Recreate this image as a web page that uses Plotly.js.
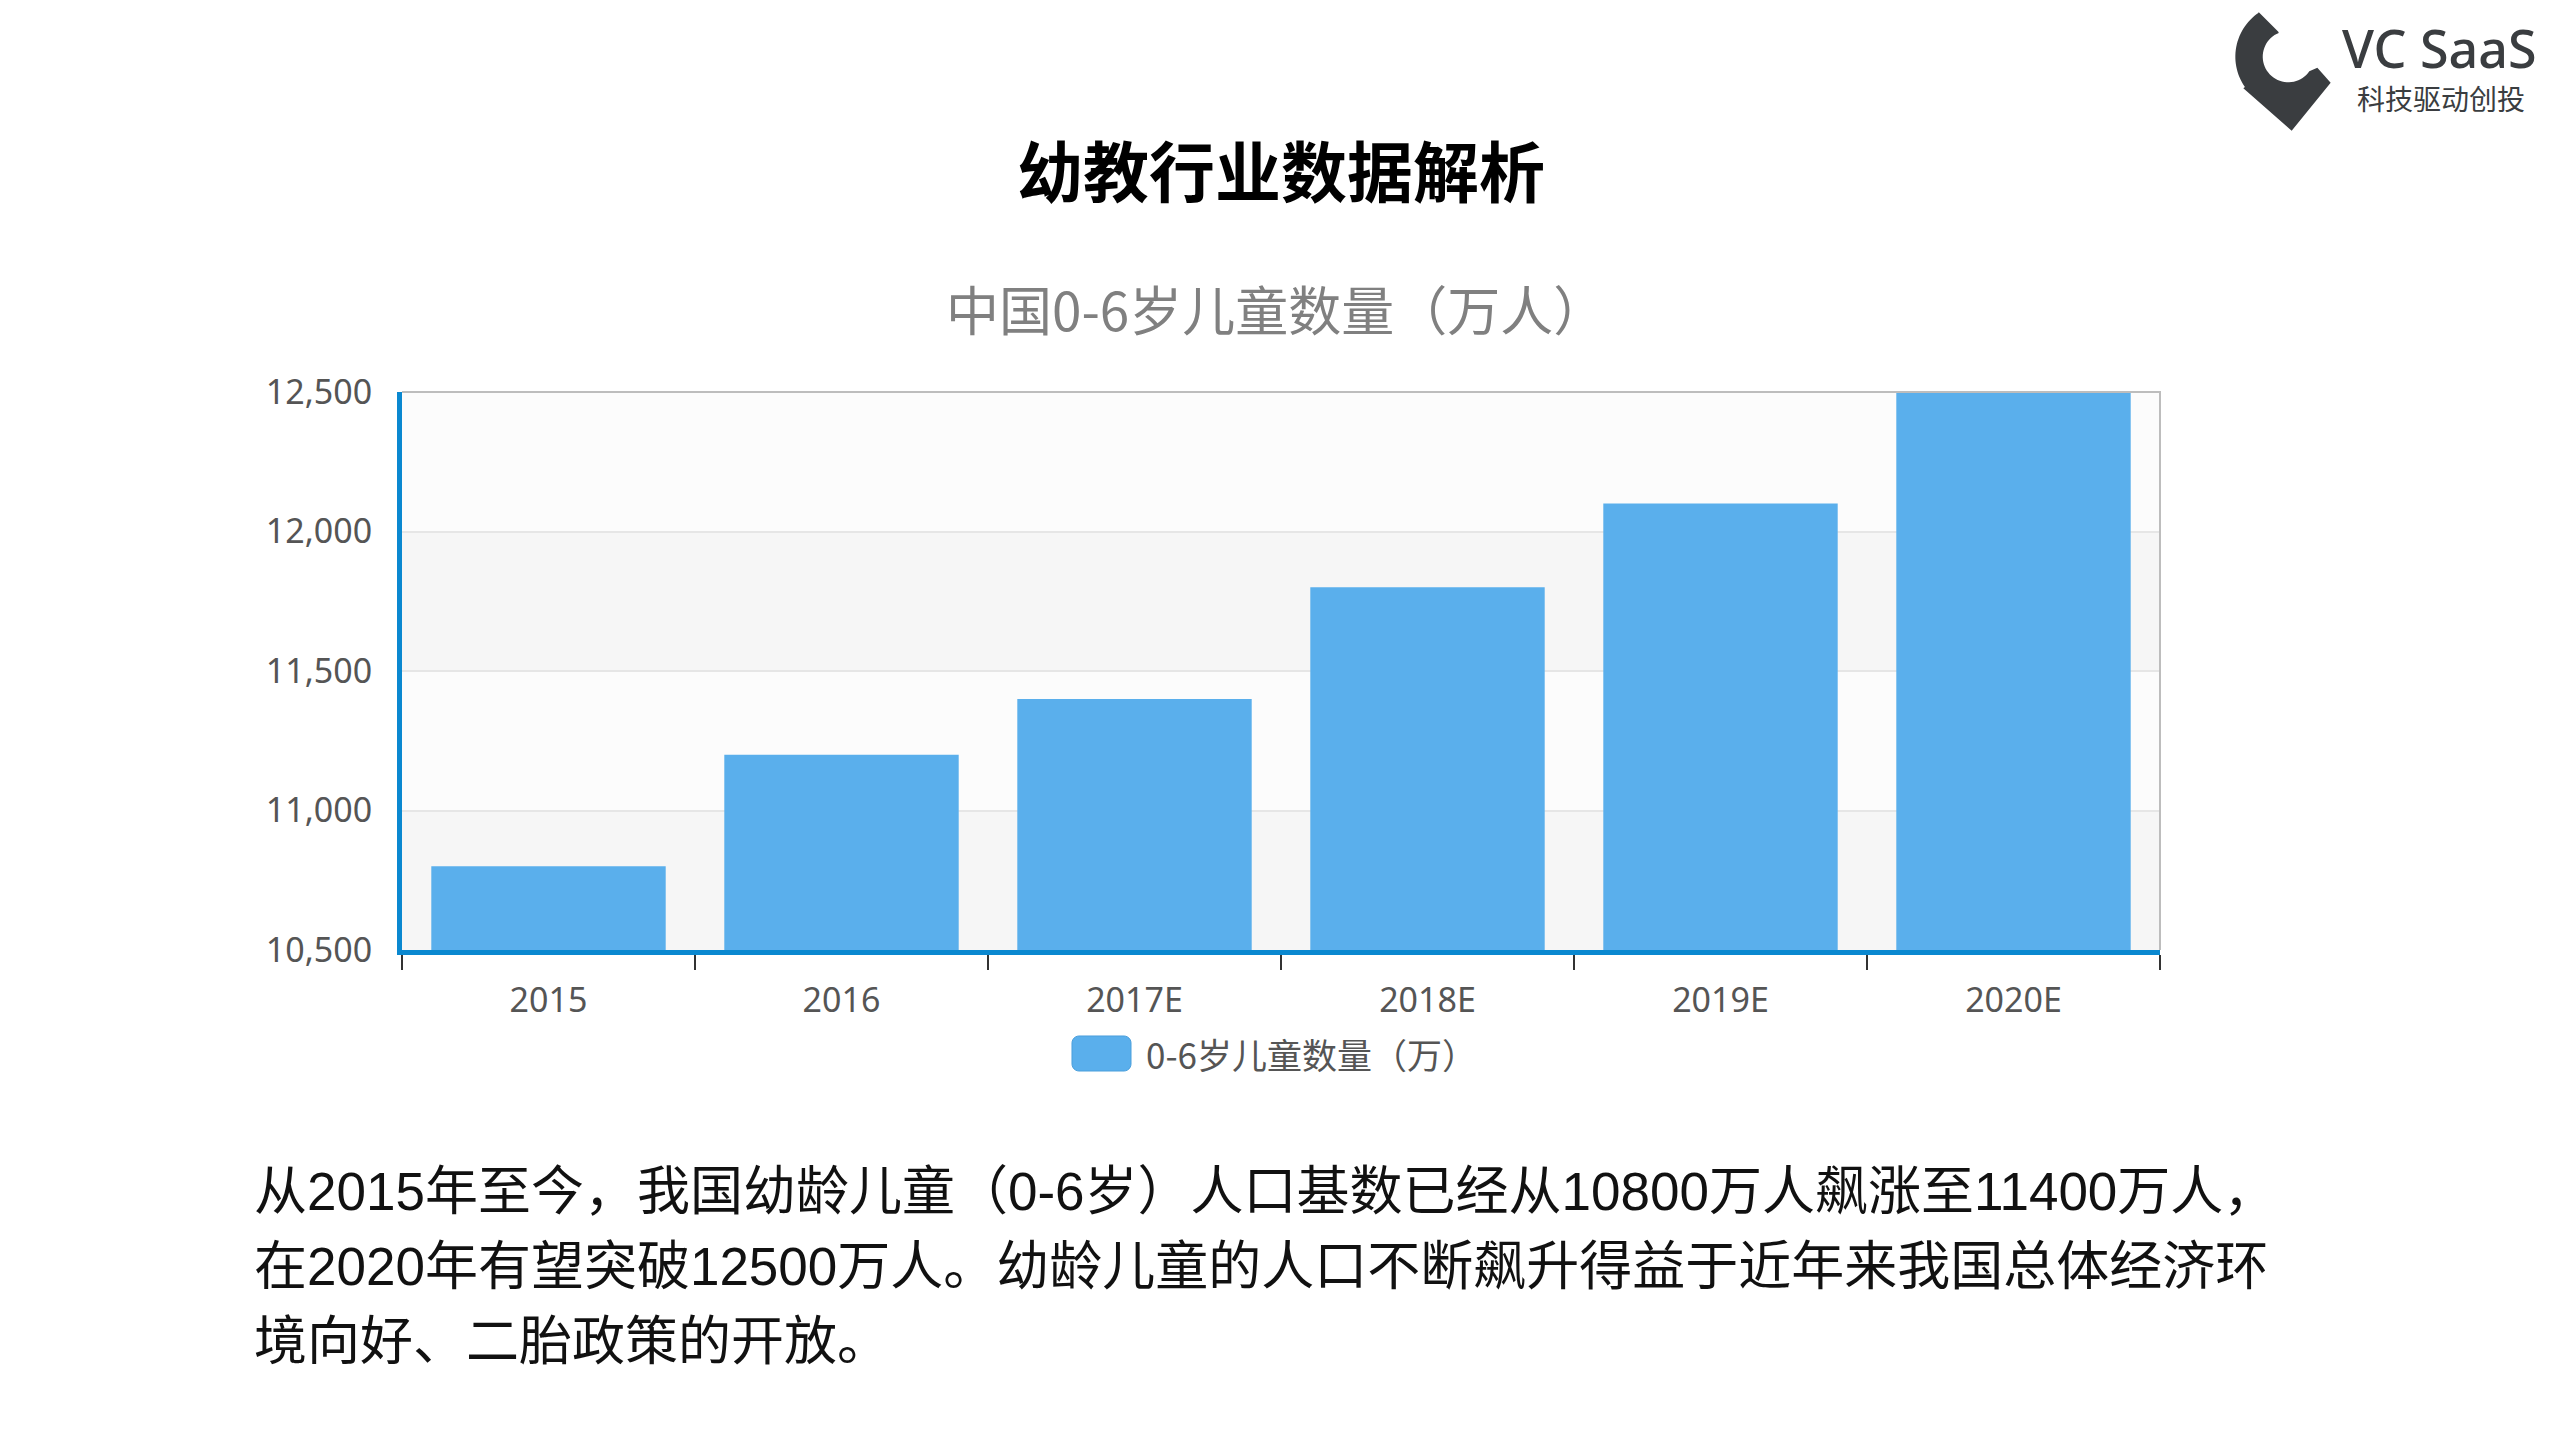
<!DOCTYPE html>
<html>
<head>
<meta charset="utf-8">
<script src="https://cdn.plot.ly/plotly-3.0.1.min.js"></script>
<style>
  html, body { margin: 0; padding: 0; background: #ffffff; }
  #chart { width: 2559px; height: 1439px; }
</style>
</head>
<body>
<div id="chart"></div>
<script>
// ---------- data ----------
const categories = ["2015", "2016", "2017E", "2018E", "2019E", "2020E"];
const childrenCount = [10800, 11200, 11400, 11800, 12100, 12500];
const seriesName = "0-6岁儿童数量（万）";
const yTicks = [10500, 11000, 11500, 12000, 12500];
const pageTitle = "幼教行业数据解析";
const chartTitle = "中国0-6岁儿童数量（万人）";
const bodyLines = [
  "从2015年至今，我国幼龄儿童（0-6岁）人口基数已经从10800万人飙涨至11400万人，",
  "在2020年有望突破12500万人。幼龄儿童的人口不断飙升得益于近年来我国总体经济环",
  "境向好、二胎政策的开放。"
];
const logoName = "VC SaaS";
const logoSlogan = "科技驱动创投";

// ---------- geometry helpers (page pixels -> paper) ----------
const W = 2559, H = 1439;
const L = 402, R = 2160, T = 392, B = 950;
const px = x => (x - L) / (R - L);
const py = y => (B - y) / (B - T);

function arcPts(cx, cy, r, a0, a1, n) {
  const pts = [];
  for (let i = 0; i <= n; i++) {
    const a = (a0 + (a1 - a0) * i / n) * Math.PI / 180;
    pts.push([cx + r * Math.cos(a), cy + r * Math.sin(a)]);
  }
  return pts;
}
function toPath(pts) {
  return pts.map((p, i) => (i ? "L" : "M") + px(p[0]).toFixed(5) + "," + py(p[1]).toFixed(5)).join(" ") + " Z";
}

// logo mark (pin with circular bite)
const lo = (x, y) => [2230 + x / 3, y / 3];
const c = lo(175, 170);
let logoPts = [];
logoPts.push(lo(85, 35));
logoPts.push(lo(145, 95));
logoPts = logoPts.concat(arcPts(c[0], c[1], 25.6, 248, 35, 40));
logoPts.push(lo(262, 203));
logoPts.push(lo(302, 248));
logoPts.push(lo(185, 392));
logoPts.push(lo(40, 265));
logoPts = logoPts.concat(arcPts(c[0], c[1], 53, 145, 236, 30));

// legend swatch (rounded rectangle)
function roundRect(x0, y0, x1, y1, r) {
  let p = [];
  p = p.concat(arcPts(x1 - r, y0 + r, r, -90, 0, 6));
  p = p.concat(arcPts(x1 - r, y1 - r, r, 0, 90, 6));
  p = p.concat(arcPts(x0 + r, y1 - r, r, 90, 180, 6));
  p = p.concat(arcPts(x0 + r, y0 + r, r, 180, 270, 6));
  return p;
}

const barColor = "#5aafec";
const axisBlue = "#0a88d0";

// ---------- shapes ----------
const shapes = [];
// alternating background bands
for (let i = 0; i < yTicks.length - 1; i++) {
  shapes.push({
    type: "rect", xref: "paper", yref: "y", x0: 0, x1: 1,
    y0: yTicks[i], y1: yTicks[i + 1],
    fillcolor: (i % 2 === 0) ? "#f6f6f6" : "#fcfcfc",
    line: { width: 0 }, layer: "below"
  });
}
// top and right frame lines
shapes.push({
  type: "path", xref: "paper", yref: "paper",
  path: "M 0,1 L 1,1 L 1,0",
  line: { color: "#bdbdbd", width: 2 }, layer: "above"
});
// logo
shapes.push({
  type: "path", xref: "paper", yref: "paper",
  path: toPath(logoPts), fillcolor: "#3a3d40", line: { width: 0 }, layer: "above"
});
// legend swatch
shapes.push({
  type: "path", xref: "paper", yref: "paper",
  path: toPath(roundRect(1072, 1036, 1131, 1071, 7)),
  fillcolor: barColor, line: { color: "#4a9fdc", width: 1 }, layer: "above"
});

// ---------- annotations ----------
const annotations = [
  {
    text: chartTitle, xref: "paper", yref: "paper",
    x: px(1276), y: py(308), xanchor: "center", yanchor: "middle",
    showarrow: false,
    font: { family: "Noto Sans CJK SC, Noto Sans, sans-serif", size: 53, color: "#808080" }
  },
  {
    text: seriesName, xref: "paper", yref: "paper",
    x: px(1144), y: py(1053), xanchor: "left", yanchor: "middle",
    showarrow: false,
    font: { family: "Noto Sans CJK SC, Noto Sans, sans-serif", size: 35, color: "#555555" }
  },
  {
    text: logoName, xref: "paper", yref: "paper",
    x: px(2340), y: py(47), xanchor: "left", yanchor: "middle",
    height: 50, valign: "middle",
    showarrow: false,
    font: { family: "Noto Sans, sans-serif", size: 52, color: "#3a3d40", weight: 500 }
  },
  {
    text: logoSlogan, xref: "paper", yref: "paper",
    x: px(2441), y: py(98), xanchor: "center", yanchor: "middle",
    height: 30, valign: "middle",
    showarrow: false,
    font: { family: "Noto Sans CJK SC, sans-serif", size: 28, color: "#3a3d40" }
  }
];
const bodyY = [1191, 1266, 1341];
bodyLines.forEach((t, i) => {
  annotations.push({
    text: t, xref: "paper", yref: "paper",
    x: px(252), y: py(bodyY[i]), xanchor: "left", yanchor: "middle",
    showarrow: false,
    font: { family: "Liberation Sans, Noto Sans CJK SC, sans-serif", size: 53, color: "#111111" }
  });
});

// ---------- trace ----------
const trace = {
  type: "bar",
  name: seriesName,
  x: categories,
  y: childrenCount,
  marker: { color: barColor, line: { color: "#ffffff", width: 0 } },
  showlegend: false,
  hoverinfo: "x+y"
};

const layout = {
  width: W, height: H,
  margin: { l: L, r: W - R, t: T, b: H - B, pad: 0 },
  paper_bgcolor: "#ffffff",
  plot_bgcolor: "#fcfcfc",
  title: {
    text: pageTitle,
    x: 0.5, xref: "paper", xanchor: "center",
    y: 1 - 174 / H, yref: "container", yanchor: "middle",
    font: { family: "Noto Sans CJK SC, sans-serif", size: 66, color: "#000000", weight: "bold" }
  },
  bargap: 0.2,
  xaxis: {
    type: "category",
    showline: true, linecolor: axisBlue, linewidth: 5,
    ticks: "outside", tickson: "boundaries", ticklen: 15, tickwidth: 2, tickcolor: "#333333",
    showgrid: false, zeroline: false,
    tickfont: { family: "Noto Sans, Open Sans, sans-serif", size: 34, color: "#555555" },
    ticklabelstandoff: 16
  },
  yaxis: {
    range: [yTicks[0], yTicks[yTicks.length - 1]],
    tickvals: yTicks,
    tickformat: ",d",
    showline: true, linecolor: axisBlue, linewidth: 5,
    ticks: "",
    showgrid: true, gridcolor: "#e6e6e6", gridwidth: 2,
    zeroline: false,
    tickfont: { family: "Noto Sans, Open Sans, sans-serif", size: 34, color: "#555555" },
    ticklabelstandoff: 18
  },
  shapes: shapes,
  annotations: annotations,
  showlegend: false
};

Plotly.newPlot("chart", [trace], layout, { displayModeBar: false, staticPlot: true });
</script>
</body>
</html>
